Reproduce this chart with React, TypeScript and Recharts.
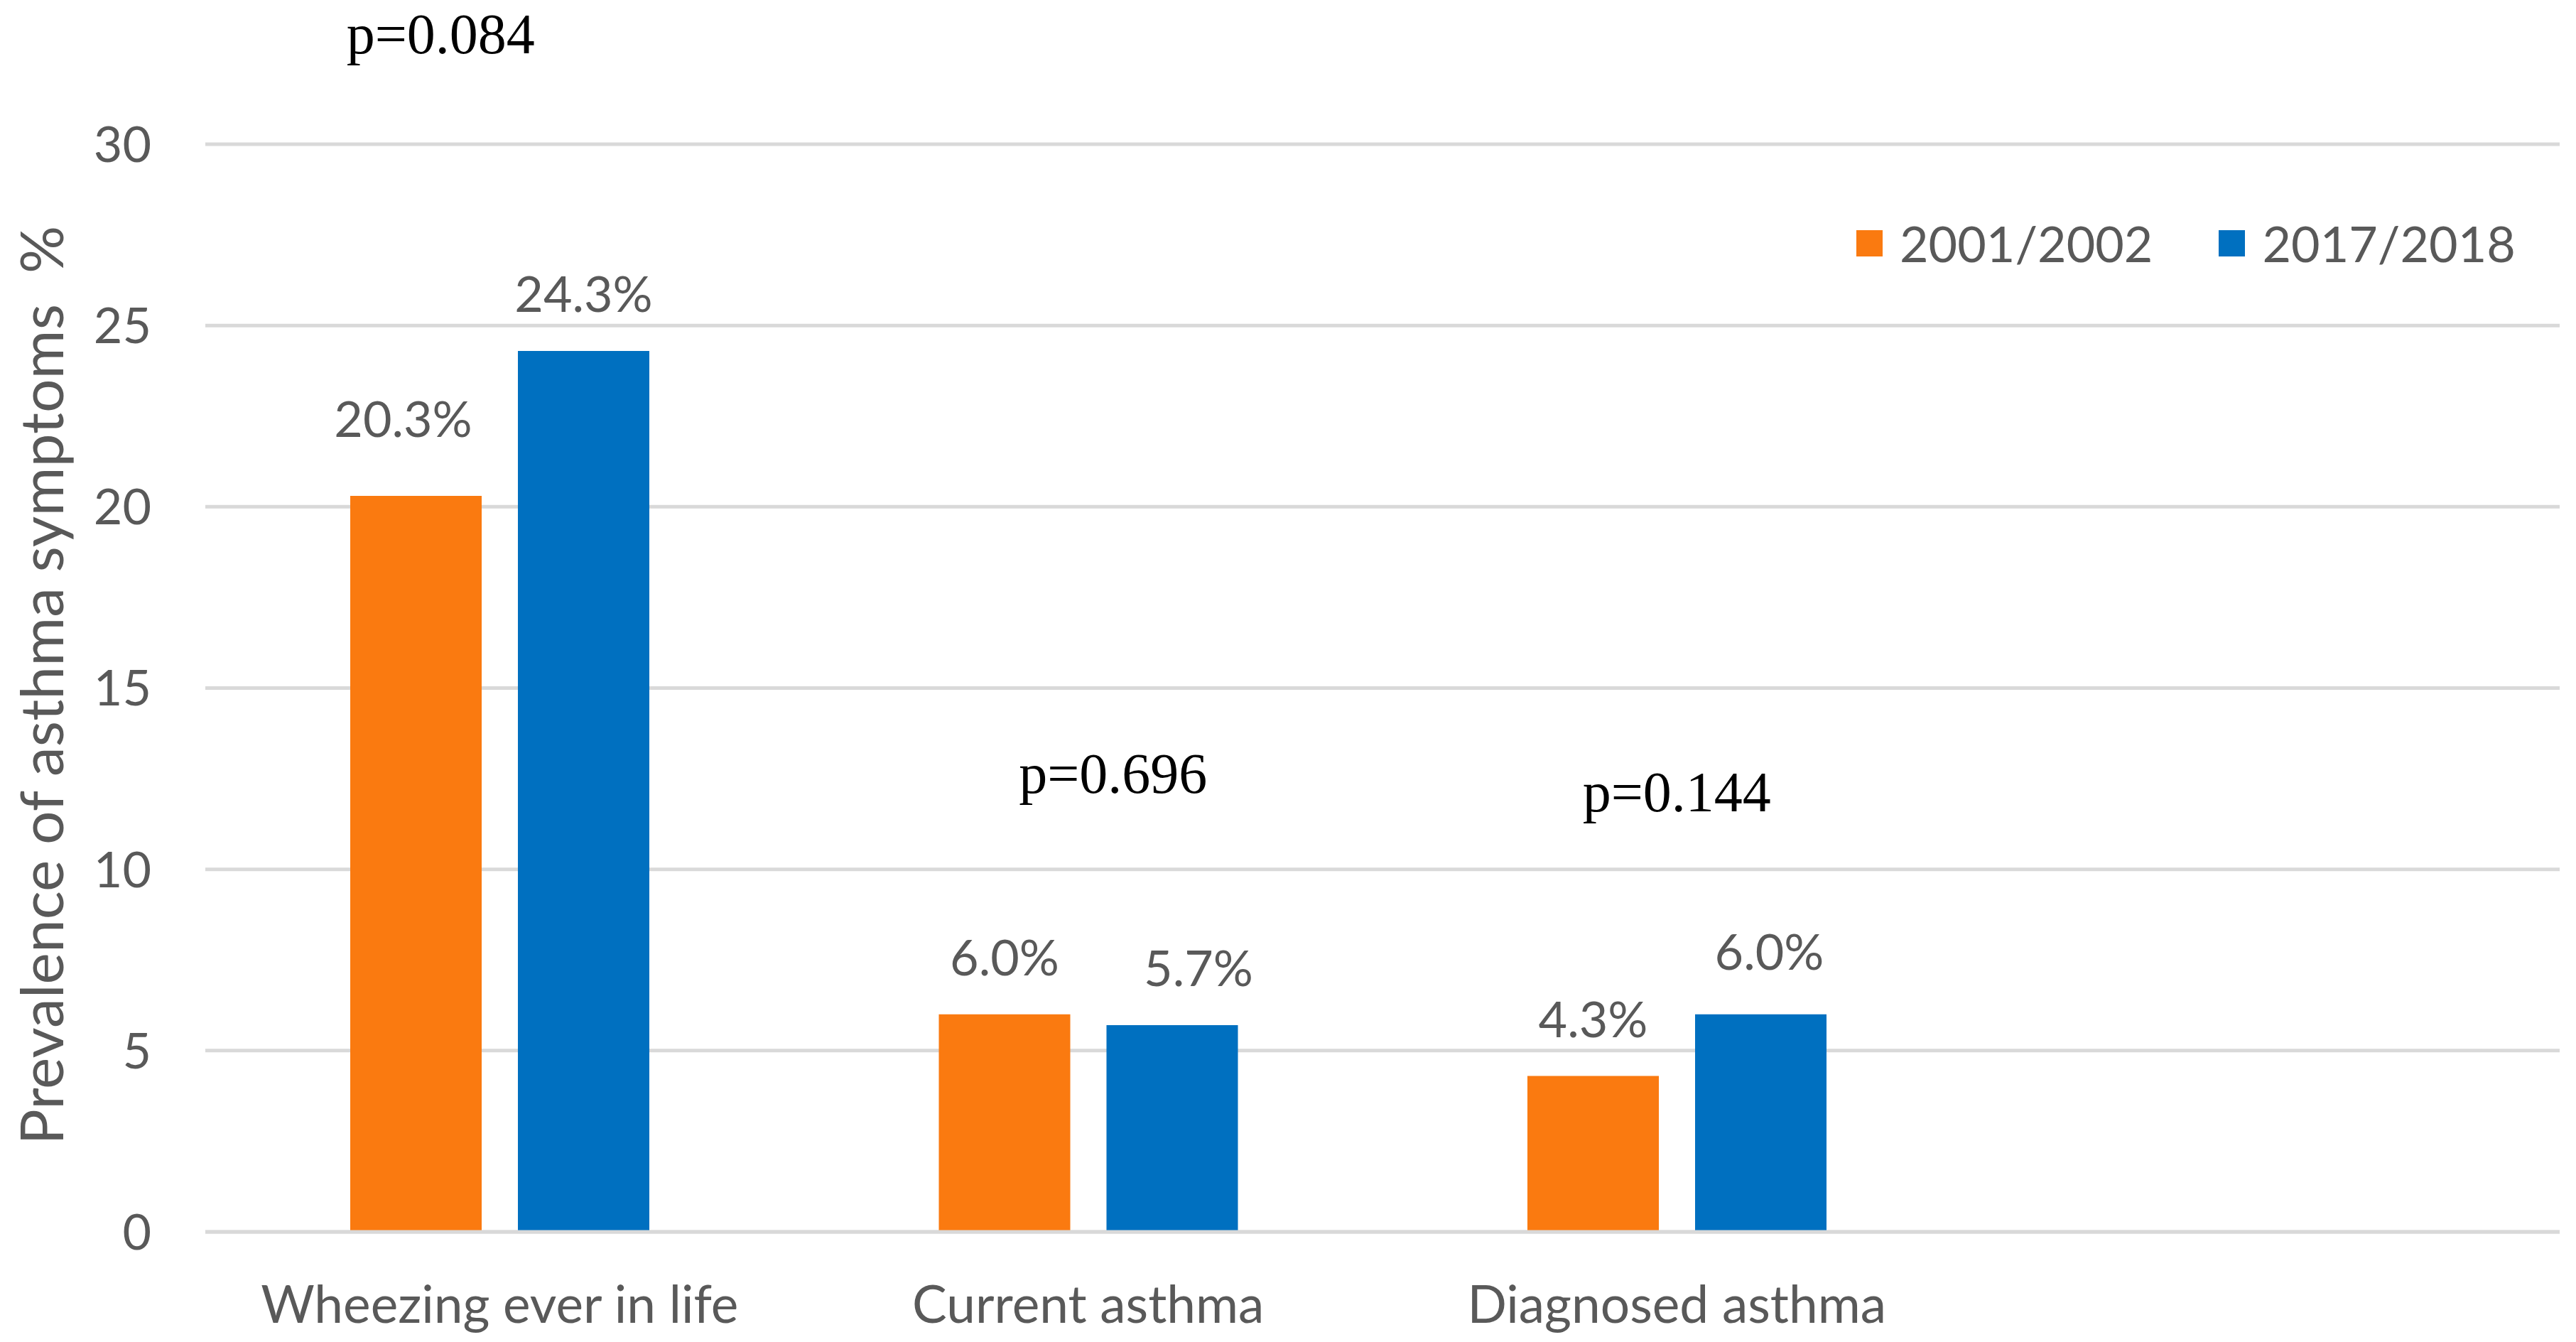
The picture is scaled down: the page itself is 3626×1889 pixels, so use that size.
import { Bar, BarChart, CartesianGrid, LabelList, Legend, ReferenceDot, XAxis, YAxis } from 'recharts'

const categories = ['Wheezing ever in life', 'Current asthma', 'Diagnosed asthma', '']
const survey2001 = [20.3, 6.0, 4.3, null]
const survey2018 = [24.3, 5.7, 6.0, null]
const yTicks = [0, 5, 10, 15, 20, 25, 30]

// p-value annotations: category, height in axis units
const pValueText = ['p=0.084', 'p=0.696', 'p=0.144']
const pValueAt = [32.5, 12.1, 11.6]

const seriesNames = ['2001/2002', '2017/2018']
const colors = ['#FA7A10', '#0070C0']

// small hand nudges for some data labels (px), like in the source figure
const nudge2001 = [
  { dx: -18, dy: -28 },
  { dx: 0, dy: 0 },
  { dx: 0, dy: 0 }
]
const nudge2018 = [
  { dx: 0, dy: 0 },
  { dx: 37, dy: 0 },
  { dx: 12, dy: -8 }
]
const pNudge = [-83, 35, 0]

const chartData = categories.map((name, i) => ({
  name,
  s2001: survey2001[i],
  s2018: survey2018[i]
}))

const FONT = 'Lato, "Open Sans", sans-serif'
const TEXT = '#595959'

const makeLabel =
  (nudges: { dx: number; dy: number }[]) =>
  (props: any): React.JSX.Element | null => {
    const { x, y, width, value, index } = props
    if (value == null) return null
    const n = nudges[index] || { dx: 0, dy: 0 }
    return (
      <text
        x={Number(x) + Number(width) / 2 + n.dx}
        y={Number(y) - 55 + n.dy}
        textAnchor="middle"
        fill={TEXT}
        fontSize={70}
        fontFamily={FONT}
      >
        {Number(value).toFixed(1)}%
      </text>
    )
  }

const renderLegend = (): React.JSX.Element => (
  <div style={{ display: 'flex', alignItems: 'center', fontFamily: FONT, fontSize: 70, color: TEXT }}>
    {seriesNames.map((s, i) => (
      <div key={s} style={{ display: 'flex', alignItems: 'center', marginRight: i === 0 ? 93 : 0 }}>
        <div style={{ width: 37, height: 37, background: colors[i], marginRight: 24 }} />
        <span>{s}</span>
      </div>
    ))}
  </div>
)

const App = (): React.JSX.Element => {
  return (
    <div style={{ position: 'absolute', left: 0, top: 0, background: '#fff' }}>
      <BarChart
        width={3626}
        height={1889}
        data={chartData}
        margin={{ top: 203, right: 23, left: 0, bottom: 0 }}
        barGap={51}
        barSize={185}
      >
        <CartesianGrid vertical={false} stroke="#D9D9D9" strokeWidth={5} />
        <XAxis
          dataKey="name"
          height={155}
          tickSize={0}
          tickMargin={76}
          axisLine={{ stroke: '#D9D9D9', strokeWidth: 5 }}
          tick={{ fill: TEXT, fontSize: 73, fontFamily: FONT }}
          interval={0}
        />
        <YAxis
          width={289}
          domain={[0, 30]}
          ticks={yTicks}
          tickSize={0}
          tickMargin={76}
          axisLine={false}
          tick={{ fill: TEXT, fontSize: 70, fontFamily: FONT }}
          label={{
            content: (props: any) => {
              const vb = props.viewBox
              const cy = vb.y + vb.height / 2 - 4
              return (
                <text
                  x={56}
                  y={cy}
                  transform={`rotate(-90, 56, ${cy})`}
                  textAnchor="middle"
                  dominantBaseline="central"
                  fill={TEXT}
                  fontSize={84}
                  fontFamily={FONT}
                  style={{ whiteSpace: 'pre' }}
                >
                  {'Prevalence of asthma symptoms  %'}
                </text>
              )
            }
          }}
        />
        <Legend
          verticalAlign="middle"
          align="center"
          content={renderLegend}
          wrapperStyle={{ position: 'absolute', left: 2613, top: 300, width: 'auto', height: 'auto' }}
        />
        <Bar dataKey="s2001" name={seriesNames[0]} fill={colors[0]} isAnimationActive={false}>
          <LabelList dataKey="s2001" content={makeLabel(nudge2001)} />
        </Bar>
        <Bar dataKey="s2018" name={seriesNames[1]} fill={colors[1]} isAnimationActive={false}>
          <LabelList dataKey="s2018" content={makeLabel(nudge2018)} />
        </Bar>
        {pValueText.map((t, i) => (
          <ReferenceDot
            key={t}
            x={categories[i]}
            y={pValueAt[i]}
            r={0}
            ifOverflow="visible"
            shape={(p: any) => (
              <text
                x={Number(p.cx) + pNudge[i]}
                y={Number(p.cy)}
                textAnchor="middle"
                fill="#000"
                fontSize={80}
                fontFamily='"Liberation Serif", "DejaVu Serif", serif'
              >
                {t}
              </text>
            )}
          />
        ))}
      </BarChart>
    </div>
  )
}

export default App
